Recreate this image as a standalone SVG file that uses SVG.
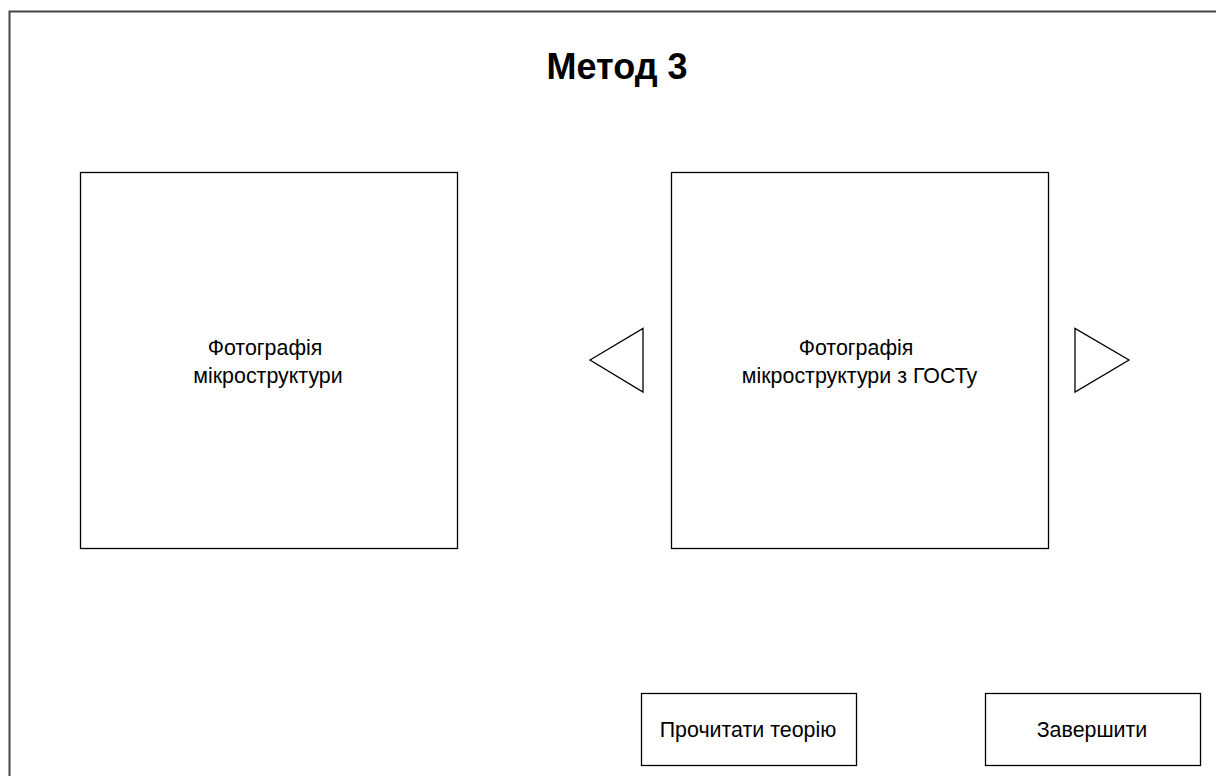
<svg xmlns="http://www.w3.org/2000/svg" width="1216" height="776" viewBox="0 0 1216 776">
<style>
.box{fill:#fff;stroke:#000;stroke-width:1.3}
.lbl{font-family:"Liberation Sans",Arial,sans-serif;font-size:21.4px;fill:#000}
.title{font-family:"Liberation Sans",Arial,sans-serif;font-size:36px;font-weight:bold;fill:#000}
</style>
<rect width="1216" height="776" fill="#fff"/>
<g id="frame"><rect x="9.5" y="11.5" width="1220" height="780" fill="#fff" stroke="#444" stroke-width="2"/></g>
<g id="title"><text class="title" x="617" y="79" text-anchor="middle">Метод 3</text></g>
<g id="photo1"><rect class="box" x="80.5" y="172.5" width="377" height="376"/>
<text class="lbl" x="265" y="355" text-anchor="middle">Фотографія</text>
<text class="lbl" x="268" y="383" text-anchor="middle">мікроструктури</text></g>
<g id="photo2"><rect class="box" x="671.5" y="172.5" width="377" height="376"/>
<text class="lbl" x="856" y="355" text-anchor="middle">Фотографія</text>
<text class="lbl" x="859.5" y="383" text-anchor="middle">мікроструктури з ГОСТу</text></g>
<g id="prev"><polygon class="box" points="590,360 643,328.5 643,392"/></g>
<g id="next"><polygon class="box" points="1075,328.5 1075,392 1129,360"/></g>
<g id="btn-theory"><rect class="box" x="641.5" y="693.5" width="215" height="72"/>
<text class="lbl" x="748" y="737" text-anchor="middle">Прочитати теорію</text></g>
<g id="btn-finish"><rect class="box" x="985.5" y="693.5" width="215" height="72"/>
<text class="lbl" x="1092" y="737" text-anchor="middle">Завершити</text></g>
<g id="connectors"/>
</svg>
